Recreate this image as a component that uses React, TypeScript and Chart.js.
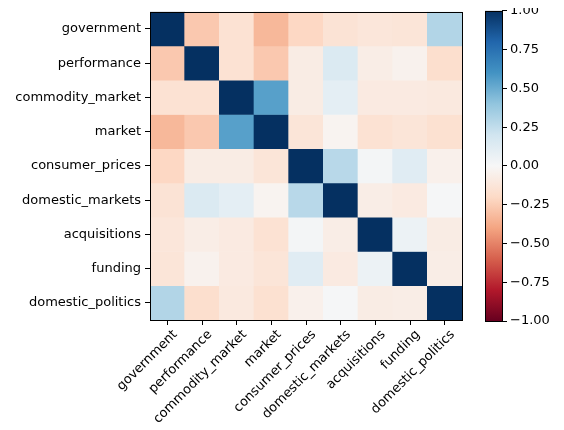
import React, { useEffect, useRef } from "react";
import { Chart, registerables } from "chart.js";

Chart.register(...registerables);

const labels = [
  "government",
  "performance",
  "commodity_market",
  "market",
  "consumer_prices",
  "domestic_markets",
  "acquisitions",
  "funding",
  "domestic_politics",
];

const governmentRow = [1, -0.27, -0.15, -0.33, -0.21, -0.14, -0.12, -0.13, 0.3];
const performanceRow = [-0.27, 1, -0.15, -0.27, -0.08, 0.15, -0.07, -0.04, -0.17];
const commodityRow = [-0.15, -0.15, 1, 0.55, -0.08, 0.1, -0.09, -0.09, -0.1];
const marketRow = [-0.33, -0.27, 0.55, 1, -0.13, -0.03, -0.15, -0.13, -0.16];
const consumerRow = [-0.21, -0.08, -0.08, -0.13, 1, 0.28, 0.02, 0.12, -0.05];
const domesticMarketsRow = [-0.14, 0.15, 0.1, -0.03, 0.28, 1, -0.07, -0.09, 0.01];
const acquisitionsRow = [-0.12, -0.07, -0.09, -0.15, 0.02, -0.07, 1, 0.06, -0.08];
const fundingRow = [-0.13, -0.04, -0.09, -0.13, 0.12, -0.09, 0.06, 1, -0.07];
const domesticPoliticsRow = [0.3, -0.17, -0.1, -0.16, -0.05, 0.01, -0.08, -0.07, 1];

const matrix = [
  governmentRow,
  performanceRow,
  commodityRow,
  marketRow,
  consumerRow,
  domesticMarketsRow,
  acquisitionsRow,
  fundingRow,
  domesticPoliticsRow,
];

const colorbarTicks = [-1, -0.75, -0.5, -0.25, 0, 0.25, 0.5, 0.75, 1];

const RdBu: [number, number, number][] = [
  [103, 0, 31],
  [178, 24, 43],
  [214, 96, 77],
  [244, 165, 130],
  [253, 219, 199],
  [247, 247, 247],
  [209, 229, 240],
  [146, 197, 222],
  [67, 147, 195],
  [33, 102, 172],
  [5, 48, 97],
];

function colorFor(v: number): string {
  const t = Math.min(1, Math.max(0, (v + 1) / 2)) * 10;
  const i = Math.min(9, Math.floor(t));
  const f = t - i;
  const a = RdBu[i];
  const b = RdBu[i + 1];
  const c = a.map((x, k) => Math.round(x + (b[k] - x) * f));
  return `rgb(${c[0]},${c[1]},${c[2]})`;
}

const FONT = { family: "'DejaVu Sans', sans-serif", size: 13 };

const framePlugin = {
  id: "frame",
  afterDatasetsDraw(chart: any) {
    const { ctx, chartArea } = chart;
    ctx.save();
    ctx.strokeStyle = "#000";
    ctx.lineWidth = 1;
    ctx.strokeRect(
      Math.round(chartArea.left) + 0.5,
      Math.round(chartArea.top) + 0.5,
      Math.round(chartArea.right - chartArea.left),
      Math.round(chartArea.bottom - chartArea.top)
    );
    ctx.restore();
  },
};

function fmt(v: number): string {
  const s = Math.abs(v).toFixed(2);
  return v < 0 ? "\u2212" + s : s;
}

export default function App() {
  const heatRef = useRef<HTMLCanvasElement>(null);
  const barRef = useRef<HTMLCanvasElement>(null);

  useEffect(() => {
    const heat = new Chart(heatRef.current!, {
      type: "bar",
      data: {
        labels,
        datasets: matrix.map((row, ri) => ({
          data: row.map(() => [ri, ri + 1]) as any,
          backgroundColor: row.map(colorFor),
          borderWidth: 0,
          grouped: false,
          barPercentage: 1,
          categoryPercentage: 1,
        })),
      },
      options: {
        animation: false,
        responsive: false,
        devicePixelRatio: 1,
        layout: { padding: { top: 8, right: 13, left: 0, bottom: 0 } },
        plugins: { legend: { display: false }, tooltip: { enabled: false } },
        scales: {
          x: {
            type: "category",
            offset: true,
            grid: { offset: false, drawOnChartArea: false, drawTicks: true, tickLength: 5, color: "#000" },
            border: { display: false },
            ticks: {
              minRotation: 45,
              maxRotation: 45,
              autoSkip: false,
              font: FONT,
              color: "#000",
              padding: 2,
              labelOffset: 8,
            },
            afterFit: (s: any) => {
              s.height = 110;
            },
          },
          y: {
            type: "linear",
            min: 0,
            max: 9,
            reverse: true,
            afterBuildTicks: (s: any) => {
              s.ticks = labels.map((_, i) => ({ value: i + 0.5 }));
            },
            grid: { drawOnChartArea: false, drawTicks: true, tickLength: 5, color: "#000" },
            border: { display: false },
            ticks: {
              autoSkip: false,
              font: FONT,
              color: "#000",
              padding: 4,
              callback: (v: any) => labels[Math.floor(Number(v))],
            },
            afterFit: (s: any) => {
              s.width = 150;
            },
          },
        },
      } as any,
      plugins: [framePlugin],
    });

    const bar = new Chart(barRef.current!, {
      type: "bar",
      data: {
        labels: ["colorbar"],
        datasets: [
          {
            data: [[-1, 1]] as any,
            borderWidth: 0,
            barPercentage: 1,
            categoryPercentage: 1,
            backgroundColor: (ctx: any) => {
              const { chart } = ctx;
              const area = chart.chartArea;
              if (!area) return "#ccc";
              const g = chart.ctx.createLinearGradient(0, area.bottom, 0, area.top);
              RdBu.forEach((c, i) => g.addColorStop(i / 10, `rgb(${c[0]},${c[1]},${c[2]})`));
              return g;
            },
          },
        ],
      },
      options: {
        animation: false,
        responsive: false,
        devicePixelRatio: 1,
        layout: { padding: { top: 8, left: 10, right: 0, bottom: 109 } },
        plugins: { legend: { display: false }, tooltip: { enabled: false } },
        scales: {
          x: { display: false },
          y: {
            position: "right",
            min: -1,
            max: 1,
            afterBuildTicks: (s: any) => {
              s.ticks = colorbarTicks.map((v) => ({ value: v }));
            },
            grid: { drawOnChartArea: false, drawTicks: true, tickLength: 5, color: "#000" },
            border: { display: false },
            ticks: {
              autoSkip: false,
              font: FONT,
              color: "#000",
              padding: 3,
              callback: (v: any) => fmt(Number(v)),
            },
            afterFit: (s: any) => {
              s.width = 62;
            },
          },
        },
      } as any,
      plugins: [framePlugin],
    });

    return () => {
      heat.destroy();
      bar.destroy();
    };
  }, []);

  return (
    <div style={{ position: "relative", width: 564, height: 430, margin: -8 }}>
      <canvas ref={heatRef} width={475} height={430} style={{ position: "absolute", left: 0, top: 0, width: 475, height: 430 }} />
      <canvas ref={barRef} width={89} height={430} style={{ position: "absolute", left: 475, top: 0, width: 89, height: 430 }} />
    </div>
  );
}
